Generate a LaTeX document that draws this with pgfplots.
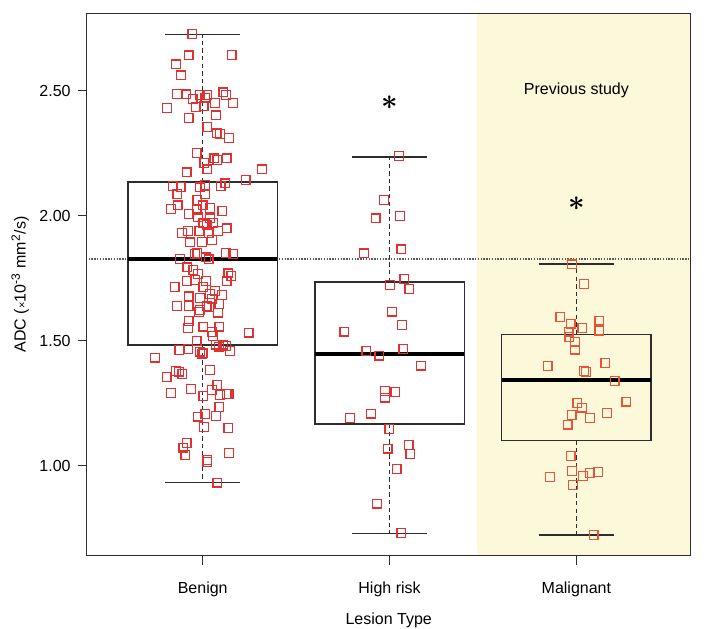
\documentclass[border=0pt]{standalone}
\usepackage{fontspec}
\setmainfont{Liberation Sans}
\usepackage{pgfplots}
\pgfplotsset{compat=1.18}
\usepgfplotslibrary{statistics}
\definecolor{shade}{RGB}{252,248,218}
\definecolor{sq}{RGB}{222,50,50}
\definecolor{sqm}{RGB}{232,84,58}
\definecolor{frame}{RGB}{45,45,45}

\pgfplotstableread{
x y
-0.056 2.727
-0.075 2.642
0.155 2.644
-0.143 2.606
-0.116 2.562
-0.139 2.488
-0.088 2.486
-0.014 2.483
0.025 2.483
0.110 2.494
0.125 2.484
-0.054 2.467
0.014 2.472
0.067 2.452
0.161 2.452
-0.191 2.431
-0.036 2.436
0.005 2.438
-0.075 2.391
0.070 2.402
0.025 2.356
0.075 2.330
0.093 2.327
0.142 2.311
-0.032 2.251
0.009 2.212
0.062 2.230
0.078 2.224
0.128 2.230
0.316 2.186
-0.086 2.174
0.025 2.186
0.230 2.144
-0.161 2.119
-0.118 2.116
-0.014 2.114
0.014 2.124
0.096 2.120
0.121 2.130
-0.136 2.088
0.011 2.086
-0.029 2.063
-0.134 2.042
-0.170 2.027
0.000 2.042
0.039 2.031
-0.032 2.023
0.105 2.019
-0.075 2.007
-0.024 1.994
0.039 1.990
0.003 1.970
0.057 1.972
0.021 1.963
-0.111 1.932
-0.080 1.940
-0.018 1.940
0.032 1.932
0.083 1.940
0.128 1.950
0.051 1.903
-0.068 1.894
-0.005 1.895
-0.029 1.852
-0.041 1.847
0.123 1.852
0.161 1.847
-0.121 1.827
0.018 1.834
0.032 1.826
-0.082 1.794
-0.050 1.783
-0.024 1.767
0.137 1.770
0.153 1.760
-0.086 1.739
-0.041 1.743
0.018 1.739
0.128 1.739
-0.150 1.715
0.003 1.716
0.066 1.700
0.039 1.687
0.103 1.684
-0.075 1.678
-0.014 1.672
0.050 1.666
-0.139 1.638
-0.075 1.638
0.021 1.639
0.089 1.646
-0.014 1.623
-0.021 1.614
0.034 1.634
0.082 1.612
-0.075 1.579
-0.080 1.551
0.003 1.556
0.048 1.535
0.089 1.556
0.246 1.532
0.054 1.519
-0.032 1.499
0.071 1.484
0.086 1.476
0.110 1.484
0.125 1.478
-0.125 1.463
-0.077 1.466
-0.014 1.456
0.003 1.450
-0.005 1.447
0.146 1.458
-0.255 1.432
0.039 1.383
-0.143 1.379
-0.128 1.376
-0.193 1.354
-0.109 1.366
0.078 1.323
-0.063 1.306
0.050 1.303
-0.170 1.291
0.003 1.279
0.093 1.283
0.128 1.287
0.139 1.286
0.089 1.235
0.014 1.207
-0.024 1.196
0.071 1.199
0.007 1.154
0.137 1.151
-0.086 1.090
-0.104 1.072
-0.093 1.043
0.142 1.051
0.025 1.023
0.025 1.015
0.078 0.932
}\benign

\pgfplotstableread{
x y
1.051 2.239
0.970 2.063
0.926 1.990
1.056 2.000
0.863 1.850
1.063 1.866
1.079 1.747
1.002 1.723
1.106 1.707
1.013 1.616
1.067 1.562
0.758 1.536
0.876 1.458
0.945 1.440
1.074 1.466
1.168 1.400
0.976 1.298
0.976 1.272
1.031 1.295
0.902 1.208
0.787 1.191
0.999 1.146
0.990 1.068
1.102 1.082
1.111 1.047
1.038 0.986
0.933 0.848
1.063 0.730
}\highrisk

\pgfplotstableread{
x y
1.976 1.806
2.041 1.727
1.914 1.594
1.969 1.567
2.123 1.580
2.032 1.550
2.123 1.540
1.959 1.536
1.962 1.515
1.993 1.495
1.993 1.464
1.846 1.398
2.155 1.410
2.042 1.379
2.051 1.375
2.205 1.339
2.267 1.256
2.005 1.251
2.030 1.232
2.164 1.210
1.975 1.203
2.074 1.190
1.953 1.164
1.969 1.038
1.976 0.979
1.860 0.954
2.035 0.959
2.071 0.971
2.116 0.975
1.983 0.923
2.093 0.722
}\malignant

\begin{document}
\begin{tikzpicture}
\useasboundingbox (-43.35pt,-36.15pt) rectangle (309.65pt,277.85pt);
\begin{axis}[
  scale only axis, width=302pt, height=271.2pt,
  xmin=-0.621, xmax=2.612, ymin=0.64, ymax=2.81,
  xtick={0,1,2}, xticklabels={Benign,High risk,Malignant},
  ytick={1,1.5,2,2.5},
  /pgf/number format/assume math mode=true,
  yticklabel style={/pgf/number format/fixed, /pgf/number format/fixed zerofill, /pgf/number format/precision=2},
  tick align=outside, tick pos=left, major tick length=4.5pt,
  tick style={frame, line width=0.65pt},
  axis line style={frame, line width=0.65pt},
  axis on top,
  tick label style={font=\fontsize{8}{9.6}\selectfont},
  label style={font=\fontsize{8}{9.6}\selectfont},
  xlabel={Lesion Type},
  ylabel={ADC ({\fontsize{5.5}{6}\selectfont ×}10\textsuperscript{-3} mm\textsuperscript{2}/s)},
  xlabel style={at={(axis description cs:0.5,0)}, anchor=north, yshift=-25.3pt},
  ylabel style={at={(axis description cs:-0.11,0.5)}, anchor=center},
  xticklabel style={yshift=-5pt},
  boxplot/draw direction=y,
  boxplot/box extend=0.8, boxplot/whisker extend=0.4,
]
\addplot[fill=shade, draw=none] coordinates {(1.468,0) (3,0) (3,3) (1.468,3)} -- cycle;
\addplot[gray!70!black, line width=1pt, dash pattern=on 0.7pt off 0.7pt] coordinates {(-1,1.827) (3,1.827)};

% box plots
\addplot[frame, line width=0.7pt, boxplot prepared={draw position=0, median=1.827, upper quartile=2.135, lower quartile=1.483, upper whisker=2.726, lower whisker=0.934, every whisker/.style={dash pattern=on 2.2pt off 1.6pt}, every median/.style={black, line width=1.8pt}}] coordinates {};
\addplot[frame, line width=0.7pt, boxplot prepared={draw position=1, median=1.447, upper quartile=1.735, lower quartile=1.167, upper whisker=2.235, lower whisker=0.728, every whisker/.style={dash pattern=on 2.2pt off 1.6pt}, every median/.style={black, line width=1.8pt}}] coordinates {};
\addplot[frame, line width=0.7pt, boxplot prepared={draw position=2, median=1.342, upper quartile=1.526, lower quartile=1.102, upper whisker=1.807, lower whisker=0.723, every whisker/.style={dash pattern=on 2.2pt off 1.6pt}, every median/.style={black, line width=1.8pt}}] coordinates {};
% solid whisker caps
\addplot[frame, line width=0.7pt] coordinates {(-0.2,2.726) (0.2,2.726)};
\addplot[frame, line width=0.7pt] coordinates {(-0.2,0.934) (0.2,0.934)};
\addplot[frame, line width=0.7pt] coordinates {(0.8,2.235) (1.2,2.235)};
\addplot[frame, line width=0.7pt] coordinates {(0.8,0.728) (1.2,0.728)};
\addplot[frame, line width=0.7pt] coordinates {(1.8,1.807) (2.2,1.807)};
\addplot[frame, line width=0.7pt] coordinates {(1.8,0.723) (2.2,0.723)};

% points
\addplot[sq, only marks, mark=square, mark size=2.2pt, mark options={sq, solid, line width=0.65pt}] table {\benign};
\addplot[sq, only marks, mark=square, mark size=2.2pt, mark options={sq, solid, line width=0.65pt}] table {\highrisk};
\addplot[sqm, only marks, mark=square, mark size=2.2pt, mark options={sqm, solid, line width=0.65pt}] table {\malignant};

\node[font=\Large\boldmath] at (axis cs:1,2.452) {$\ast$};
\node[font=\Large\boldmath] at (axis cs:2,2.049) {$\ast$};
\node[font=\fontsize{8}{9.6}\selectfont] at (axis cs:2,2.50) {Previous study};
\end{axis}
\end{tikzpicture}
\end{document}
